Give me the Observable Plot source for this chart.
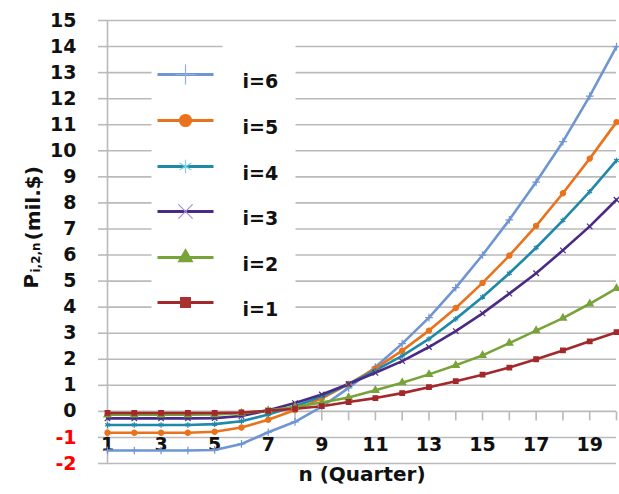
<!DOCTYPE html>
<html>
<head>
<meta charset="utf-8">
<script src="https://cdn.jsdelivr.net/npm/d3@7"></script>
<script src="https://cdn.jsdelivr.net/npm/@observablehq/plot@0.6"></script>
<style>
  html, body { margin: 0; padding: 0; background: #fff; }
  #chart svg { display: block; }
</style>
</head>
<body>
<div id="chart"></div>
<script>
// ---- data ----
const quarters = [1,2,3,4,5,6,7,8,9,10,11,12,13,14,15,16,17,18,19,20];
const seriesNames = ["i=6", "i=5", "i=4", "i=3", "i=2", "i=1"];
const seriesColors = ["#6f95d2", "#e8731c", "#2089a8", "#4a2a85", "#77a339", "#a3282b"];
const legendMarkColors = ["#8fb0e0", "#e8731c", "#7fcfe6", "#a58fd0", "#77a339", "#a83232"];
const seriesSymbols = ["plus", "circle", "asterisk", "times", "triangle", "square"];
const i6 = [-1.5,-1.5,-1.5,-1.5,-1.48,-1.25,-0.8,-0.4,0.18,0.9,1.7,2.6,3.6,4.75,6.0,7.35,8.8,10.35,12.1,14.0];
const i5 = [-0.82,-0.82,-0.82,-0.82,-0.78,-0.62,-0.32,0.05,0.5,1.05,1.65,2.33,3.1,3.97,4.93,5.98,7.12,8.37,9.7,11.1];
const i4 = [-0.52,-0.52,-0.52,-0.52,-0.49,-0.38,-0.12,0.2,0.57,1.05,1.57,2.13,2.78,3.55,4.39,5.3,6.28,7.33,8.43,9.63];
const i3 = [-0.27,-0.27,-0.27,-0.27,-0.26,-0.18,0.04,0.32,0.65,1.05,1.48,1.93,2.47,3.08,3.76,4.52,5.3,6.18,7.1,8.12];
const i2 = [-0.13,-0.13,-0.13,-0.13,-0.12,-0.07,0.03,0.17,0.34,0.53,0.81,1.1,1.42,1.77,2.15,2.62,3.1,3.58,4.13,4.72];
const i1 = [-0.06,-0.06,-0.06,-0.06,-0.06,-0.04,0.02,0.1,0.2,0.36,0.51,0.7,0.93,1.16,1.41,1.68,2.0,2.34,2.69,3.04];
const seriesValues = [i6, i5, i4, i3, i2, i1];
const yTicksBlack = [0,1,2,3,4,5,6,7,8,9,10,11,12,13,14,15];
const yTicksRed = [-1,-2];
const xTickLabels = [1,3,5,7,9,11,13,15,17,19];
const xTitle = "n (Quarter)";
const yTitleMain = "P";
const yTitleSub = "i,2,n";
const yTitleUnit = "(mil.$)";

// ---- build table ----
const rows = [];
seriesNames.forEach((s, k) => quarters.forEach((n, j) => rows.push({series: s, n, v: seriesValues[k][j]})));

const FONT = "DejaVu Sans";
const GRID = "#bababa";

// custom symbols (pixel-size shapes)
const tickDown = {draw(ctx) { ctx.moveTo(0, 0); ctx.lineTo(0, 9); }};
const legendLine = {draw(ctx) { ctx.moveTo(-28, 0); ctx.lineTo(28, 0); }};
const legendBg = {draw(ctx) { ctx.rect(0, 16, 144, 270); ctx.rect(71, 0, 73, 17); }};

const legendMarks = [];
legendMarks.push(Plot.dot([0], {frameAnchor: "top-left", dx: 44, dy: 16, symbol: legendBg, fill: "white", stroke: "none"}));
seriesNames.forEach((s, k) => {
  const dy = [54, 100, 146, 191, 237, 282][k];
  const r = [6.5, 6, 6.5, 6.5, 5.2, 5.5][k];
  legendMarks.push(Plot.dot([0], {frameAnchor: "top-left", dx: 78, dy, symbol: legendLine, fill: "none", stroke: seriesColors[k], strokeWidth: 3.2}));
  legendMarks.push(Plot.dot([0], {frameAnchor: "top-left", dx: 78, dy, symbol: seriesSymbols[k], r,
    fill: legendMarkColors[k], stroke: legendMarkColors[k], strokeWidth: 1.2}));
  legendMarks.push(Plot.text([s], {frameAnchor: "top-left", dx: 135, dy, text: d => d, textAnchor: "start",
    fontFamily: FONT, fontWeight: "bold", fontSize: 19, fill: "#111"}));
});

const chart = Plot.plot({
  width: 619,
  height: 494,
  marginLeft: 107,
  marginRight: 3,
  marginTop: 20,
  marginBottom: 31,
  style: {background: "#fff", fontFamily: FONT},
  x: {domain: [1, 20], axis: null},
  y: {domain: [-2, 15]},
  color: {domain: seriesNames, range: seriesColors},
  symbol: {domain: seriesNames, range: seriesSymbols},
  marks: [
    Plot.gridY(yTicksBlack.concat(yTicksRed), {stroke: GRID, strokeOpacity: 1, strokeWidth: 1.6}),
    Plot.axisY(yTicksBlack, {tickSize: 9, tickPadding: 22, stroke: GRID, strokeWidth: 1.6, fill: "#111",
      fontSize: 19, fontWeight: "bold", fontFamily: FONT, label: null, tickFormat: d => String(d)}),
    Plot.axisY(yTicksRed, {tickSize: 9, tickPadding: 22, stroke: GRID, strokeWidth: 1.6, fill: "#ff0000",
      fontSize: 19, fontWeight: "bold", fontFamily: FONT, label: null, tickFormat: d => String(d)}),
    Plot.ruleX([1], {y1: -2, y2: 15, stroke: GRID, strokeWidth: 1.6}),
    Plot.dot(quarters, {x: d => d, y: 0, symbol: tickDown, fill: "none", stroke: GRID, strokeWidth: 1.6}),
    Plot.text(xTickLabels, {x: d => d, y: 0, dy: 34, text: d => String(d), fontFamily: FONT, fontWeight: "bold", fontSize: 19, fill: "#111"}),
    ...legendMarks,
    Plot.line(rows, {x: "n", y: "v", z: "series", stroke: "series", strokeWidth: 2.6}),
    Plot.dot(rows, {x: "n", y: "v", symbol: "series", fill: "series", stroke: "series", r: 2.6, strokeWidth: 1.2}),
    Plot.text([xTitle], {frameAnchor: "bottom", dy: 17, text: d => d, fontFamily: FONT, fontWeight: "bold", fontSize: 20, fill: "#111"}),
    Plot.text([yTitleMain], {frameAnchor: "top-left", dx: -83.5, dy: 268, rotate: -90, textAnchor: "start", text: d => d,
      fontFamily: FONT, fontWeight: "bold", fontSize: 20, fill: "#111"}),
    Plot.text([yTitleSub], {frameAnchor: "top-left", dx: -76, dy: 252, rotate: -90, textAnchor: "start", text: d => d,
      fontFamily: FONT, fontWeight: "bold", fontSize: 12, fill: "#111"}),
    Plot.text([yTitleUnit], {frameAnchor: "top-left", dx: -82, dy: 220, rotate: -90, textAnchor: "start", text: d => d,
      fontFamily: FONT, fontWeight: "bold", fontSize: 20, fill: "#111"})
  ]
});
document.getElementById("chart").appendChild(chart);
</script>
</body>
</html>
